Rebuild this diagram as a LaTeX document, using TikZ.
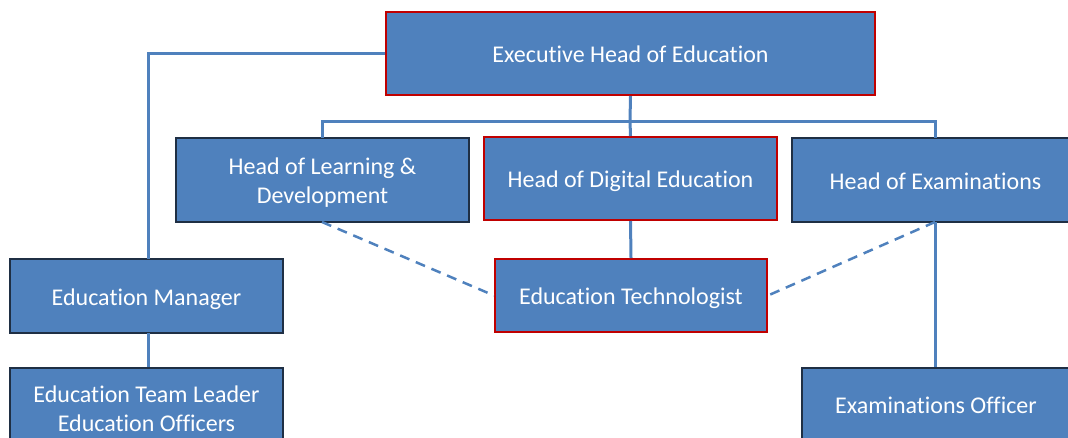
\documentclass[tikz,border=0pt]{standalone}
\usepackage{fontspec}
\setmainfont[Ligatures=NoCommon]{Carlito}
\definecolor{boxfill}{HTML}{4F81BD}
\definecolor{darkedge}{HTML}{1F2F44}
\definecolor{rededge}{HTML}{C00000}
\definecolor{linkcol}{HTML}{4F81BD}
\begin{document}
\begin{tikzpicture}[x=1pt,y=-1pt,
  role/.style={draw=darkedge,line width=2pt,fill=boxfill,text=white,
    align=center,font=\fontsize{24}{29}\selectfont,inner sep=0pt,
    text height=18pt,text depth=0pt},
  tworole/.style={role,text height=47pt},
  keyrole/.style={role,draw=rededge},
  link/.style={draw=linkcol,line width=3pt},
  dotlink/.style={draw=linkcol,line width=2.5pt,dash pattern=on 10pt off 7pt}]
\useasboundingbox (0,0) rectangle (1068,437);
\begin{scope}
\clip (0,0) rectangle (1068,437);
% boxes, sized in points
\node[keyrole,minimum width=489pt,minimum height=83pt] (exec) at (630.5,53.5) {Executive Head of Education};
\node[tworole,minimum width=293pt,minimum height=84pt] (hld) at (322.5,180) {Head of Learning \&\\Development};
\node[keyrole,minimum width=293pt,minimum height=83pt] (hde) at (630.5,178.5) {Head of Digital Education};
\node[role,minimum width=293pt,minimum height=84pt] (hoe) at (938.5,180) {\hspace*{-6pt}Head of Examinations};
\node[role,minimum width=273pt,minimum height=74pt] (em) at (146.5,296) {Education Manager};
\node[keyrole,minimum width=272pt,minimum height=73pt] (et) at (631,295.5) {Education Technologist};
\node[role,minimum width=273pt,minimum height=90pt,anchor=north] (tl) at (146.5,367) {};
\node[role,minimum width=290pt,minimum height=90pt,anchor=north] (eo) at (947,367) {};
\node[text=white,font=\fontsize{24}{29}\selectfont,align=center] (tltext) at (146.5,408.5) {Education Team Leader\\Education Officers};
\node[text=white,font=\fontsize{24}{29}\selectfont] (eotext) at (936,405) {Examinations Officer};
% reporting lines
\coordinate (bus) at (630,121);
\draw[link] (exec.west) -- (148,53.5) -- (148,259);
\draw[link] (exec.south) -- (bus);
\draw[link] (322,138) -- (322,121) -- (935,121) -- (935,138);
\draw[link] (bus) -- (hde.north);
\draw[link] (hde.south) -- (et.north);
\draw[link] (935,222) -- (935,367);
\draw[link] (148,333) -- (148,367);
% dotted-line relationships
\draw[dotlink] (322,222) -- (et.west);
\draw[dotlink] (935,222) -- (et.east);
\end{scope}
\end{tikzpicture}
\end{document}
